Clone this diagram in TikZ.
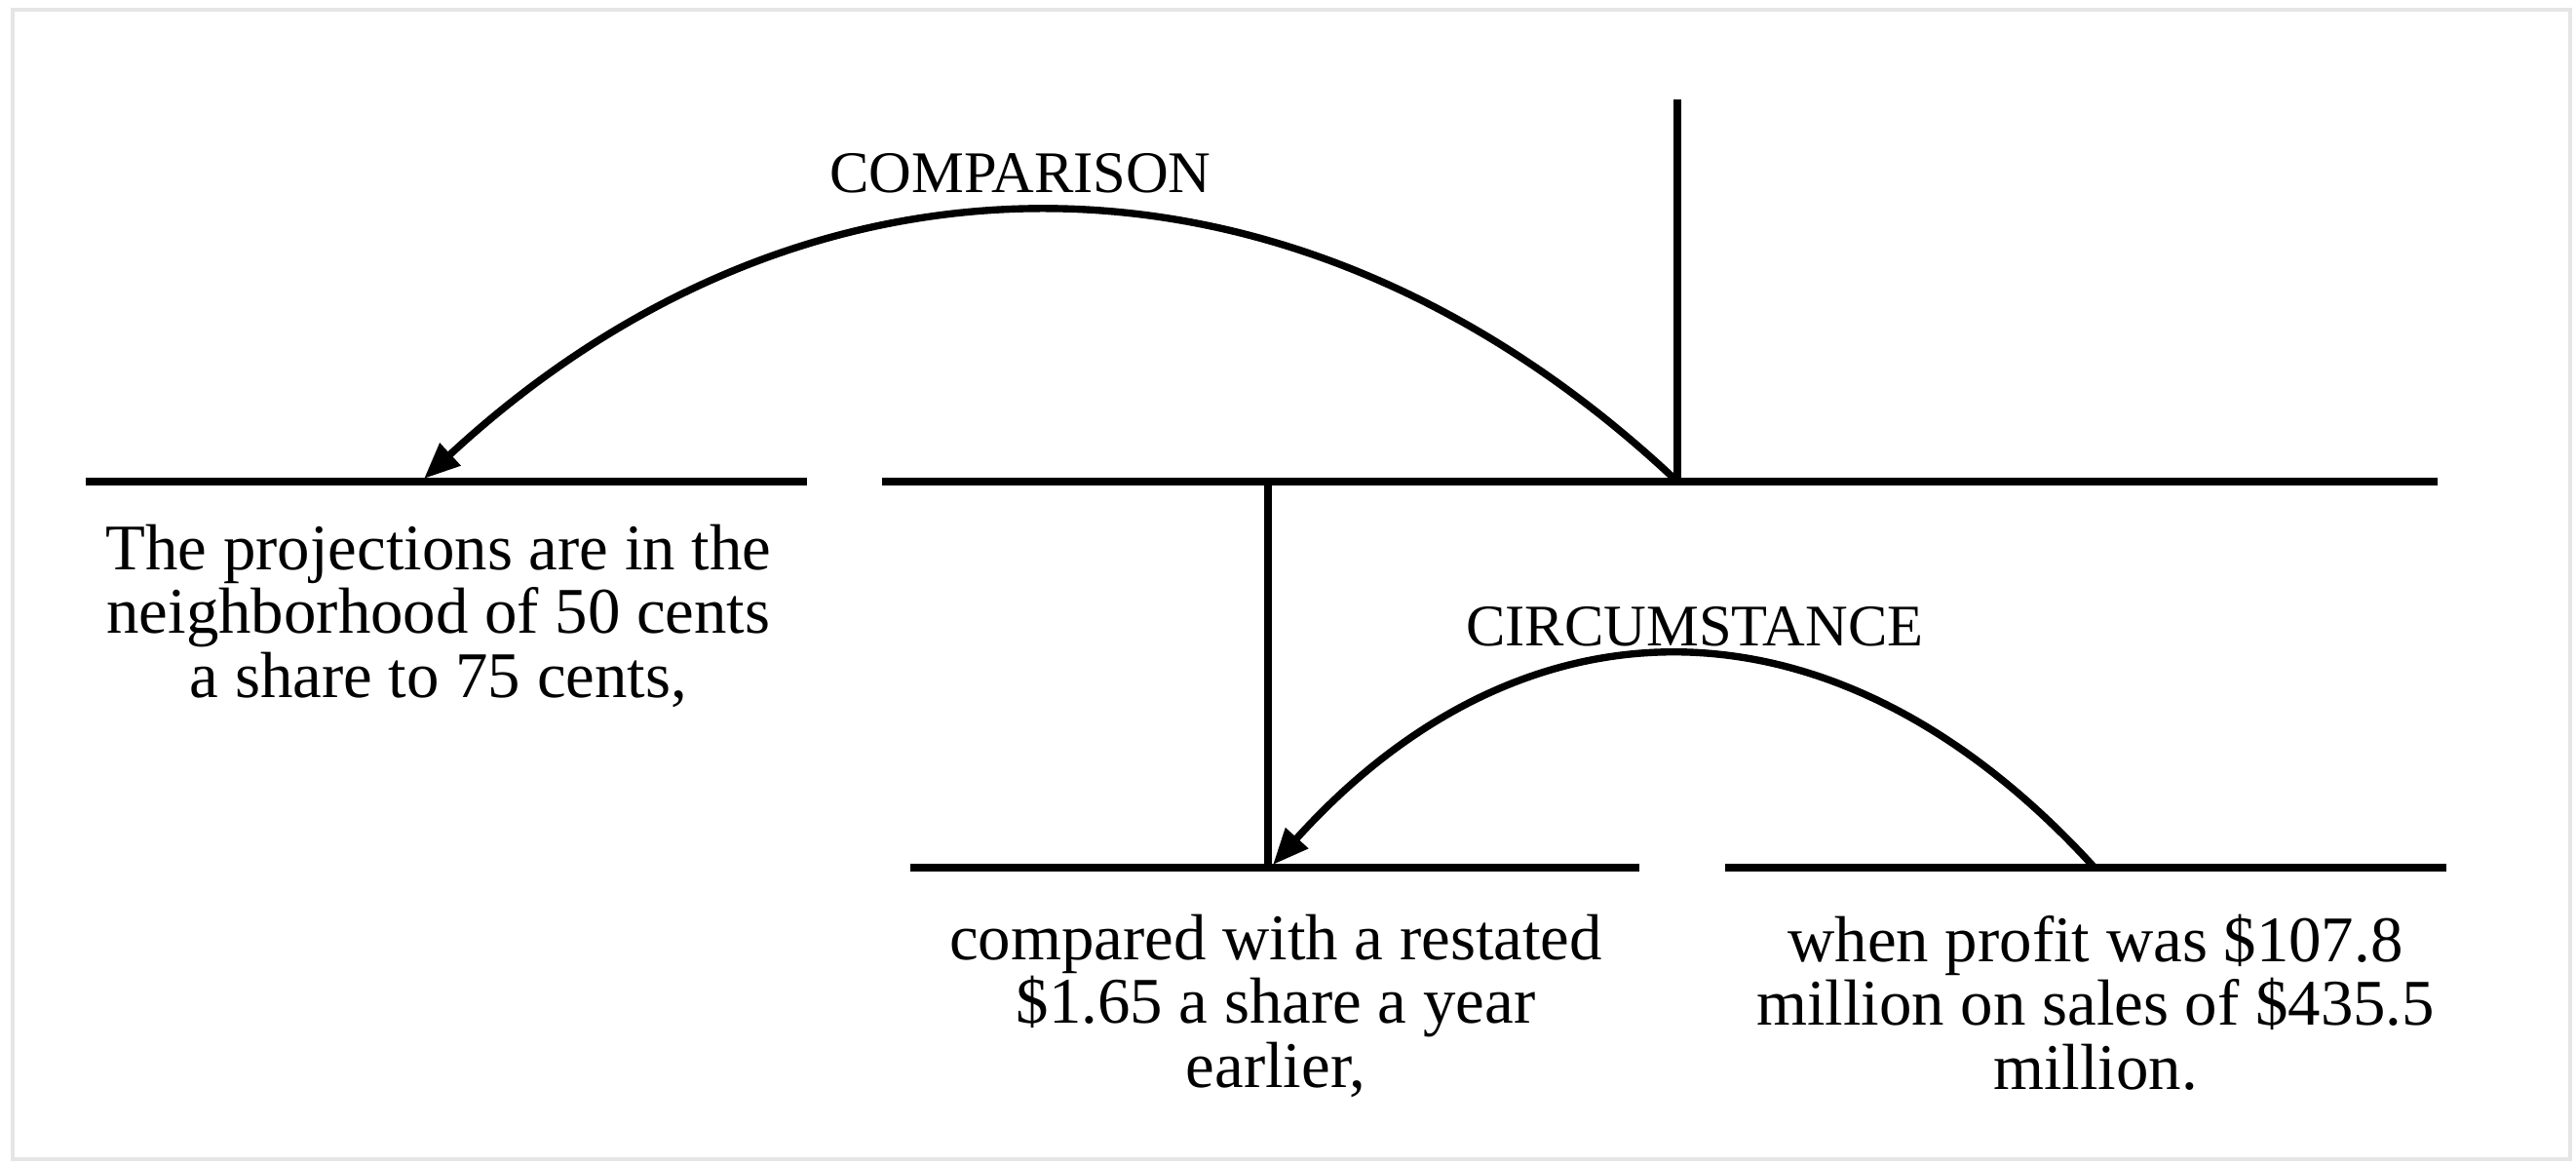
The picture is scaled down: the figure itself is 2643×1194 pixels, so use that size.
\documentclass[tikz,border=0pt]{standalone}
\usepackage{fontspec}
\setmainfont{Liberation Serif}
\usepackage{tikz}
\usetikzlibrary{arrows.meta}
\usetikzlibrary{positioning}

\tikzset{
  span/.style={line width=2.3pt},
  stem/.style={line width=2.2pt},
  relarc/.style={line width=2.1pt,-{Triangle[length=10.5pt,width=8.5pt]}},
  reltext/.style={font=\fontsize{17.2}{20}\selectfont, anchor=base, inner sep=0pt},
  edu/.style={font=\fontsize{19}{18.7}\selectfont, align=center, anchor=north, inner sep=0pt}
}

\begin{document}
\begin{tikzpicture}[x=0.01cm,y=-0.01cm]
  \useasboundingbox (0,0) rectangle (2643,1194);
  \draw[black!10,line width=1.2pt] (13,10) rectangle (2637,1189);
  % spans
  \coordinate (s1l) at (88,494);
  \coordinate (s1r) at (828,494);
  \coordinate (s2l) at (905,494);
  \coordinate (s2r) at (2501,494);
  \coordinate (s3l) at (934,890);
  \coordinate (s3r) at (1682,890);
  \coordinate (s4l) at (1770,890);
  \coordinate (s4r) at (2510,890);
  \draw[span] (s1l) -- (s1r);
  \draw[span] (s2l) -- (s2r);
  \draw[span] (s3l) -- (s3r);
  \draw[span] (s4l) -- (s4r);
  % stems
  \coordinate (top) at (1721,102);
  \coordinate (nuc) at (1721,494);
  \coordinate (sub) at (1301,494);
  \coordinate (subnuc) at (1301,890);
  \draw[stem] (top) -- (nuc);
  \draw[stem] (sub) -- (subnuc);
  % relations
  \coordinate (cmpsat) at (435,491);
  \coordinate (cirnuc) at (1306,887);
  \coordinate (cirsat) at (2149,890);
  \draw[relarc] (nuc) .. controls (1330,125) and (830,125) .. (cmpsat);
  \draw[relarc] (cirsat) .. controls (1885,600) and (1565,600) .. (cirnuc);
  \node[reltext] (cmp) at (1047,198) {COMPARISON};
  \node[reltext] (cir) at (1739,662) {CIRCUMSTANCE};
  % segments
  \node[edu] (e1) at (450,537) {The projections are in the\\ neighborhood of 50 cents\\ a share to 75 cents,};
  \node[edu] (e2) at (1309,937) {compared with a restated\\ \$1.65 a share a year\\ earlier,};
  \node[edu] (e3) at (2150,937) {when profit was \$107.8\\ million on sales of \$435.5\\ million.};
\end{tikzpicture}
\end{document}
